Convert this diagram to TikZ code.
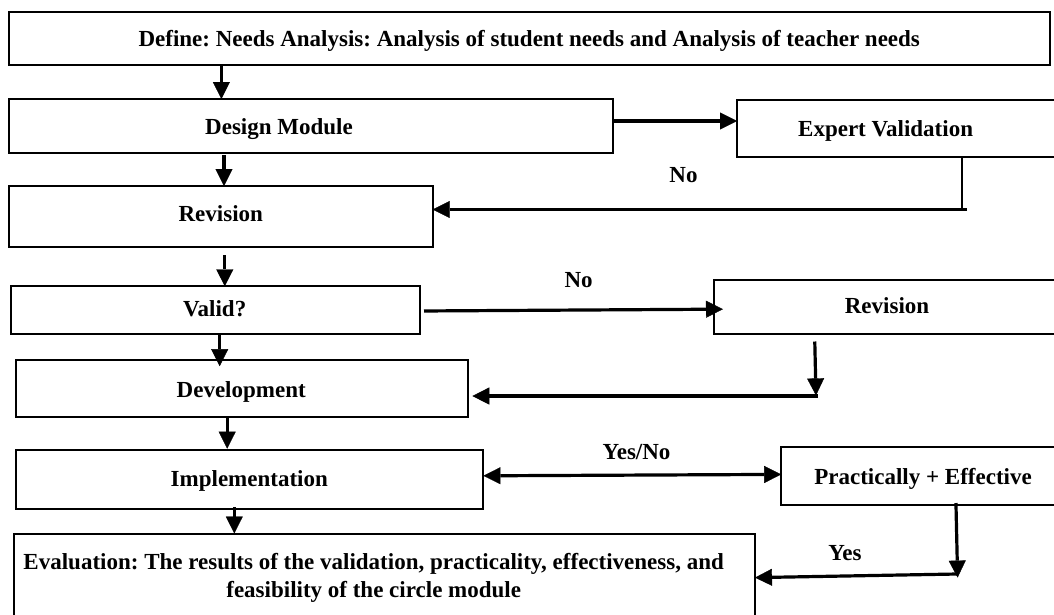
\documentclass[tikz,border=0pt]{standalone}
\usepackage{fontspec}
\setmainfont{Liberation Serif}
\usetikzlibrary{arrows.meta}
\frenchspacing
\begin{document}
\begin{tikzpicture}[x=1pt,y=-1pt,
  box/.style={draw=black, line width=2pt, inner sep=0pt, outer sep=0pt},
  lbl/.style={font=\fontsize{23}{28}\selectfont\bfseries, inner sep=0pt, text height=15.2pt, text depth=0pt},
  lbltwo/.style={font=\fontsize{23}{28}\selectfont\bfseries, inner sep=0pt, align=center},
  ln/.style={line width=3.2pt},
  arr/.style={line width=3.2pt, -{Triangle[length=17pt,width=17pt,line width=0.4pt]}},
  darr/.style={line width=3.2pt, {Triangle[length=17pt,width=17pt,line width=0.4pt]}-{Triangle[length=17pt,width=17pt,line width=0.4pt]}}]
\useasboundingbox (0,0) rectangle (1054,614);
\clip (0,0) rectangle (1054,614);
\fill[white] (0,0) rectangle (1054,614);

% boxes
\node[box, minimum width=1041.5pt, minimum height=53.2pt] (define) at (529.25,38.4) {};
\node[box, minimum width=604.1pt, minimum height=54pt] (design) at (310.55,126) {};
\node[box, minimum width=333pt, minimum height=57.2pt] (expert) at (903.5,128.4) {};
\node[box, minimum width=424.2pt, minimum height=61pt] (revision) at (220.6,216.5) {};
\node[box, minimum width=408.8pt, minimum height=47.5pt] (valid) at (215.6,310.05) {};
\node[box, minimum width=356pt, minimum height=54pt] (revision2) at (892,307) {};
\node[box, minimum width=451.6pt, minimum height=57.1pt] (development) at (241.7,388.75) {};
\node[box, minimum width=467.5pt, minimum height=58.9pt] (implementation) at (249.65,479.85) {};
\node[box, minimum width=288.8pt, minimum height=58.3pt] (practically) at (925.6,476.25) {};
\node[box, minimum width=741.5pt, minimum height=106.5pt] (evaluation) at (384.25,586.75) {};

% texts
\node[lbl] (defineT) at (529.25,38.9) {Define: Needs Analysis: Analysis of student needs and Analysis of teacher needs};
\node[lbl] (designT) at (279,126.8) {Design Module};
\node[lbl] (expertT) at (885.6,128.7) {Expert Validation};
\node[lbl] (revisionT) at (220.8,214) {Revision};
\node[lbl] (validT) at (214.7,309) {Valid?};
\node[lbl] (revision2T) at (887,306) {Revision};
\node[lbl] (developmentT) at (241.2,389.6) {Development};
\node[lbl] (implementationT) at (249.3,479.2) {Implementation};
\node[lbl] (practicallyT) at (923,477) {Practically + Effective};
\node[lbltwo] (evaluationT) at (373.7,578.2) {Evaluation: The results of the validation, practicality, effectiveness, and\\feasibility of the circle module};

% edge labels
\node[lbl] (no1) at (683.5,174.4) {No};
\node[lbl] (no2) at (578.6,280) {No};
\node[lbl] (yesno) at (636.6,451.6) {Yes/No};
\node[lbl] (yes) at (845,552.7) {Yes};

% helper coordinates
\coordinate (c1) at (221.4,0);
\coordinate (c2) at (224,0);
\coordinate (c3) at (224.8,0);
\coordinate (c4) at (219.7,0);
\coordinate (c5) at (227.2,0);
\coordinate (c6) at (234.3,0);
\coordinate (r1) at (0,121);
\coordinate (k1) at (961.8,209.5);
\coordinate (k1e) at (967,209.5);
\coordinate (v1) at (0,311);
\coordinate (v2) at (0,309.2);
\coordinate (k2a) at (814.6,0);
\coordinate (k2) at (816,395.4);
\coordinate (k2e) at (818,396);
\coordinate (d1) at (0,475.8);
\coordinate (d2) at (0,474.4);
\coordinate (k3a) at (956,0);
\coordinate (k3) at (957.6,577.6);
\coordinate (k3h) at (957,574);
\coordinate (k3l) at (0,577.6);

% connectors
\draw[arr] (define.south -| c1) -- (design.north -| c1);
\draw[arr] (design.east |- r1) -- (expert.west |- r1);
\draw[arr, shorten <=2pt] (design.south -| c2) -- (revision.north -| c2);
\draw[ln, line width=2pt] (expert.south -| k1) -- (k1);
\draw[arr] (k1e) -- (revision.east |- k1);
\draw[arr, shorten <=8pt] (revision.south -| c3) -- (valid.north -| c3);
\draw[arr, shorten <=4pt, shorten >=-9pt] (valid.east |- v1) -- (revision2.west |- v2);
\draw[arr, shorten <=7.5pt] (revision2.south -| k2a) -- (k2);
\draw[arr, shorten >=4.8pt] (k2e) -- (development.east |- k2e);
\draw[arr, shorten >=-6pt] (valid.south -| c4) -- (development.north -| c4);
\draw[arr, shorten >=1.7pt] (development.south -| c5) -- (implementation.north -| c5);
\draw[darr] (implementation.east |- d1) -- (practically.west |- d2);
\draw[arr, shorten <=-2.4pt] (practically.south -| k3a) -- (k3);
\draw[arr] (k3h) -- (evaluation.east |- k3l);
\draw[arr, shorten <=-2.3pt] (implementation.south -| c6) -- (evaluation.north -| c6);
\end{tikzpicture}
\end{document}
